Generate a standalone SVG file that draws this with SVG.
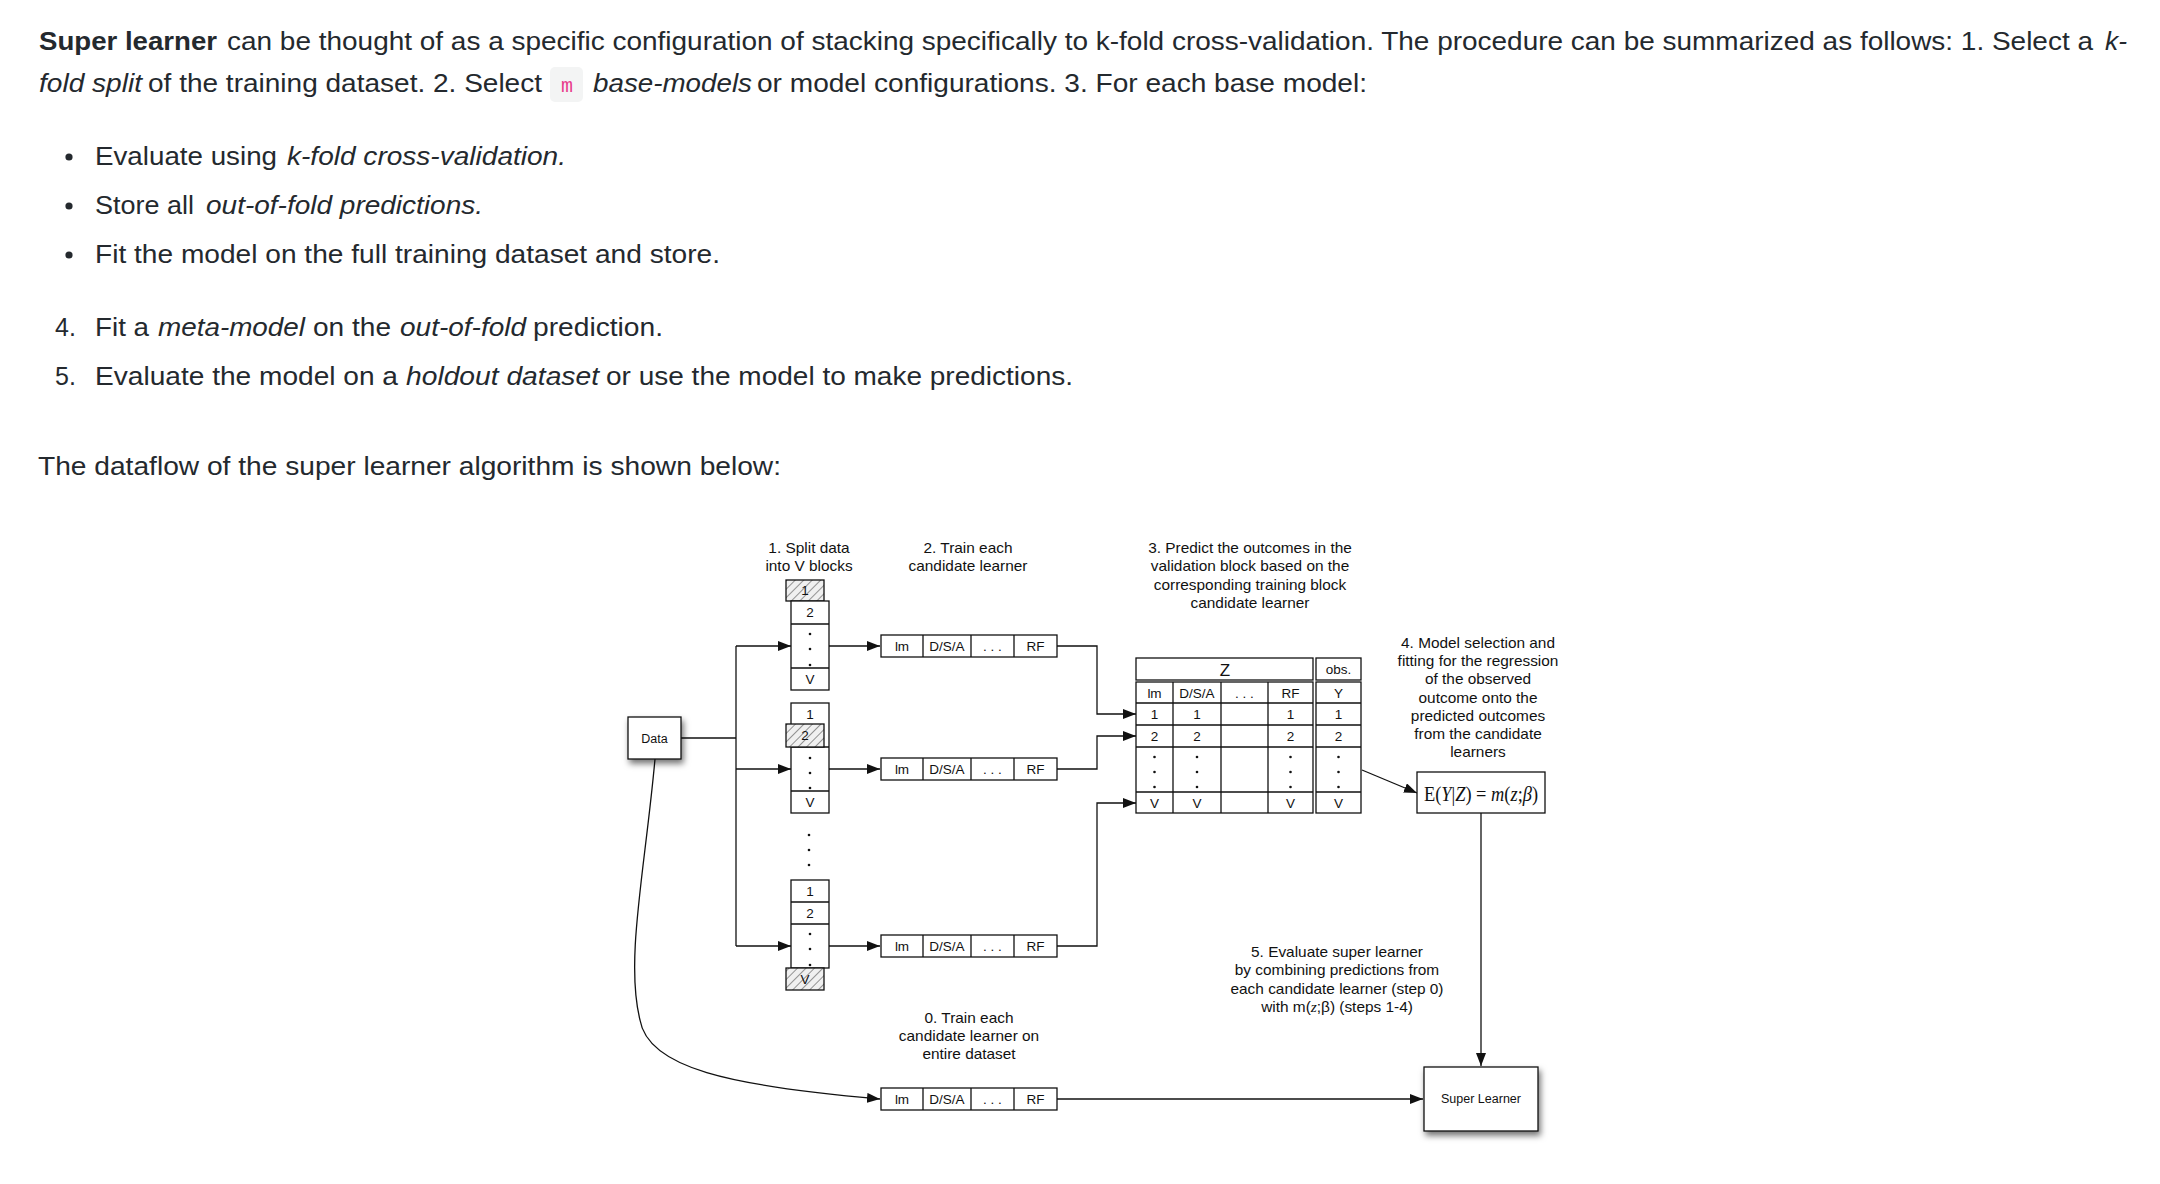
<svg xmlns="http://www.w3.org/2000/svg" width="2160" height="1184" viewBox="0 0 2160 1184">
<style>
.t{font-family:"Liberation Sans",Arial,sans-serif;font-size:25px;fill:#24292e}
.b{font-weight:bold}
.i{font-style:italic}
.lbl text{font-family:"Liberation Sans",Arial,sans-serif;font-size:14px;fill:#111;text-anchor:middle}
.c{font-family:"Liberation Sans",Arial,sans-serif;font-size:13.5px;fill:#111;text-anchor:middle}
.bx{fill:#fff;stroke:#111;stroke-width:1.3}
.hx{fill:url(#hatch);stroke:#111;stroke-width:1.3}
.ln{fill:none;stroke:#111;stroke-width:1.3}
.ar{fill:none;stroke:#111;stroke-width:1.3;marker-end:url(#ah)}
.dot{fill:#111}
</style>
<defs>
<pattern id="hatch" patternUnits="userSpaceOnUse" width="6" height="6" patternTransform="rotate(45)">
<rect width="6" height="6" fill="#f0f0f0"/>
<line x1="0" y1="0" x2="0" y2="6" stroke="#444" stroke-width="1.1"/>
</pattern>
<marker id="ah" markerUnits="userSpaceOnUse" markerWidth="13" markerHeight="10" refX="13" refY="5" orient="auto">
<path d="M0,0 L13,5 L0,10 z" fill="#111"/>
</marker>
<filter id="sh" x="-30%" y="-30%" width="170%" height="170%">
<feDropShadow dx="2" dy="4" stdDeviation="3" flood-color="#000" flood-opacity="0.55"/>
</filter>
</defs>
<rect width="2160" height="1184" fill="#fff"/>

<g id="text">
<text class="t b" x="39" y="50" textLength="178" lengthAdjust="spacingAndGlyphs">Super learner</text>
<text class="t" x="227" y="50" textLength="1866" lengthAdjust="spacingAndGlyphs">can be thought of as a specific configuration of stacking specifically to k-fold cross-validation. The procedure can be summarized as follows: 1. Select a</text>
<text class="t i" x="2105" y="50" textLength="22" lengthAdjust="spacingAndGlyphs">k-</text>
<text class="t i" x="39" y="92" textLength="103" lengthAdjust="spacingAndGlyphs">fold split</text>
<text class="t" x="148" y="92" textLength="394" lengthAdjust="spacingAndGlyphs">of the training dataset. 2. Select</text>
<rect x="550" y="67" width="33" height="35" rx="5" fill="#f3f4f4"/>
<text x="567" y="92" text-anchor="middle" font-family="Liberation Mono,monospace" font-size="20" fill="#e83e8c">m</text>
<text class="t i" x="593" y="92" textLength="159" lengthAdjust="spacingAndGlyphs">base-models</text>
<text class="t" x="757" y="92" textLength="610" lengthAdjust="spacingAndGlyphs">or model configurations. 3. For each base model:</text>

<circle cx="69" cy="157" r="3.6" fill="#24292e"/>
<text class="t" x="95" y="165" textLength="182" lengthAdjust="spacingAndGlyphs">Evaluate using</text>
<text class="t i" x="287" y="165" textLength="279" lengthAdjust="spacingAndGlyphs">k-fold cross-validation.</text>
<circle cx="69" cy="206" r="3.6" fill="#24292e"/>
<text class="t" x="95" y="214" textLength="99" lengthAdjust="spacingAndGlyphs">Store all</text>
<text class="t i" x="206" y="214" textLength="277" lengthAdjust="spacingAndGlyphs">out-of-fold predictions.</text>
<circle cx="69" cy="255" r="3.6" fill="#24292e"/>
<text class="t" x="95" y="263" textLength="625" lengthAdjust="spacingAndGlyphs">Fit the model on the full training dataset and store.</text>

<text class="t" x="55" y="336">4.</text>
<text class="t" x="95" y="336" textLength="54" lengthAdjust="spacingAndGlyphs">Fit a</text>
<text class="t i" x="158" y="336" textLength="147" lengthAdjust="spacingAndGlyphs">meta-model</text>
<text class="t" x="313" y="336" textLength="78" lengthAdjust="spacingAndGlyphs">on the</text>
<text class="t i" x="400" y="336" textLength="126" lengthAdjust="spacingAndGlyphs">out-of-fold</text>
<text class="t" x="533" y="336" textLength="130" lengthAdjust="spacingAndGlyphs">prediction.</text>
<text class="t" x="55" y="385">5.</text>
<text class="t" x="95" y="385" textLength="303" lengthAdjust="spacingAndGlyphs">Evaluate the model on a</text>
<text class="t i" x="406" y="385" textLength="193" lengthAdjust="spacingAndGlyphs">holdout dataset</text>
<text class="t" x="606" y="385" textLength="467" lengthAdjust="spacingAndGlyphs">or use the model to make predictions.</text>

<text class="t" x="38" y="475" textLength="743" lengthAdjust="spacingAndGlyphs">The dataflow of the super learner algorithm is shown below:</text>
</g>

<g id="connectors">
<path class="ln" d="M681,738 H736"/>
<path class="ln" d="M736,646 V946"/>
<path class="ar" d="M736,646 H791"/>
<path class="ar" d="M736,769 H791"/>
<path class="ar" d="M736,946 H791"/>
<path class="ar" d="M829,646 H880"/>
<path class="ar" d="M829,769 H880"/>
<path class="ar" d="M829,946 H880"/>
<path class="ar" d="M1057,646 H1097 V714 H1136"/>
<path class="ar" d="M1057,769 H1097 V736 H1136"/>
<path class="ar" d="M1057,946 H1097 V803 H1136"/>
<path class="ar" d="M655,759 C645,870 625,960 640,1020 C648,1068 730,1086 880,1099"/>
<path class="ar" d="M1057,1099 H1423"/>
<path class="ar" d="M1362,770 L1417,793"/>
<path class="ar" d="M1481,813 V1066"/>
</g>

<g id="data">
<rect class="bx" x="628" y="717" width="53" height="42" filter="url(#sh)"/>
<text class="c" x="654.5" y="743" style="font-size:12.5px">Data</text>
</g>

<g id="stack1">
<rect class="hx" x="786" y="580" width="38" height="21"/>
<text class="c" x="805" y="595">1</text>
<rect class="bx" x="791" y="601" width="38" height="89"/>
<path class="ln" d="M791,624 H829 M791,668 H829"/>
<text class="c" x="810" y="617">2</text>
<circle class="dot" cx="810" cy="634" r="1.3"/><circle class="dot" cx="810" cy="649" r="1.3"/><circle class="dot" cx="810" cy="665" r="1.3"/>
<text class="c" x="810" y="684">V</text>
</g>

<g id="stack2">
<rect class="bx" x="791" y="703" width="38" height="110"/>
<path class="ln" d="M791,747 H829 M791,791 H829"/>
<text class="c" x="810" y="719">1</text>
<rect class="hx" x="786" y="724" width="38" height="23"/>
<text class="c" x="805" y="740">2</text>
<circle class="dot" cx="810" cy="758" r="1.3"/><circle class="dot" cx="810" cy="773" r="1.3"/><circle class="dot" cx="810" cy="788" r="1.3"/>
<text class="c" x="810" y="807">V</text>
</g>

<g id="vdots">
<circle class="dot" cx="809" cy="835" r="1.3"/><circle class="dot" cx="809" cy="850" r="1.3"/><circle class="dot" cx="809" cy="865" r="1.3"/>
</g>

<g id="stack3">
<rect class="bx" x="791" y="880" width="38" height="88"/>
<path class="ln" d="M791,902 H829 M791,924 H829"/>
<text class="c" x="810" y="896">1</text>
<text class="c" x="810" y="918">2</text>
<circle class="dot" cx="810" cy="934" r="1.3"/><circle class="dot" cx="810" cy="949" r="1.3"/><circle class="dot" cx="810" cy="965" r="1.3"/>
<rect class="hx" x="786" y="968" width="38" height="22"/>
<text class="c" x="805" y="984">V</text>
</g>

<g id="model1">
<rect class="bx" x="881" y="635" width="176" height="22"/>
<path class="ln" d="M923,635 V657 M971,635 V657 M1014,635 V657"/>
<text class="c" x="902" y="651">lm</text><text class="c" x="947" y="651">D/S/A</text><text class="c" x="992.5" y="651">. . .</text><text class="c" x="1035.5" y="651">RF</text>
</g>
<g id="model2">
<rect class="bx" x="881" y="758" width="176" height="22"/>
<path class="ln" d="M923,758 V780 M971,758 V780 M1014,758 V780"/>
<text class="c" x="902" y="774">lm</text><text class="c" x="947" y="774">D/S/A</text><text class="c" x="992.5" y="774">. . .</text><text class="c" x="1035.5" y="774">RF</text>
</g>
<g id="model3">
<rect class="bx" x="881" y="935" width="176" height="22"/>
<path class="ln" d="M923,935 V957 M971,935 V957 M1014,935 V957"/>
<text class="c" x="902" y="951">lm</text><text class="c" x="947" y="951">D/S/A</text><text class="c" x="992.5" y="951">. . .</text><text class="c" x="1035.5" y="951">RF</text>
</g>
<g id="model0">
<rect class="bx" x="881" y="1088" width="176" height="22"/>
<path class="ln" d="M923,1088 V1110 M971,1088 V1110 M1014,1088 V1110"/>
<text class="c" x="902" y="1104">lm</text><text class="c" x="947" y="1104">D/S/A</text><text class="c" x="992.5" y="1104">. . .</text><text class="c" x="1035.5" y="1104">RF</text>
</g>

<g id="table">
<rect class="bx" x="1136" y="658" width="177" height="22"/>
<text class="c" x="1225" y="676" style="font-size:17px">Z</text>
<rect class="bx" x="1136" y="682" width="177" height="131"/>
<path class="ln" d="M1173,682 V813 M1221,682 V813 M1268,682 V813 M1136,703 H1313 M1136,725 H1313 M1136,747 H1313 M1136,792 H1313"/>
<text class="c" x="1154.5" y="698">lm</text><text class="c" x="1197" y="698">D/S/A</text><text class="c" x="1244.5" y="698">. . .</text><text class="c" x="1290.5" y="698">RF</text>
<text class="c" x="1154.5" y="719">1</text><text class="c" x="1197" y="719">1</text><text class="c" x="1290.5" y="719">1</text>
<text class="c" x="1154.5" y="741">2</text><text class="c" x="1197" y="741">2</text><text class="c" x="1290.5" y="741">2</text>
<g class="dot">
<circle cx="1154.5" cy="757" r="1.3"/><circle cx="1154.5" cy="772" r="1.3"/><circle cx="1154.5" cy="787" r="1.3"/>
<circle cx="1197" cy="757" r="1.3"/><circle cx="1197" cy="772" r="1.3"/><circle cx="1197" cy="787" r="1.3"/>
<circle cx="1290.5" cy="757" r="1.3"/><circle cx="1290.5" cy="772" r="1.3"/><circle cx="1290.5" cy="787" r="1.3"/>
</g>
<text class="c" x="1154.5" y="808">V</text><text class="c" x="1197" y="808">V</text><text class="c" x="1290.5" y="808">V</text>
</g>

<g id="obs">
<rect class="bx" x="1316" y="658" width="45" height="22"/>
<text class="c" x="1338.5" y="674">obs.</text>
<rect class="bx" x="1316" y="682" width="45" height="131"/>
<path class="ln" d="M1316,703 H1361 M1316,725 H1361 M1316,747 H1361 M1316,792 H1361"/>
<text class="c" x="1338.5" y="698">Y</text>
<text class="c" x="1338.5" y="719">1</text>
<text class="c" x="1338.5" y="741">2</text>
<circle class="dot" cx="1338.5" cy="757" r="1.3"/><circle class="dot" cx="1338.5" cy="772" r="1.3"/><circle class="dot" cx="1338.5" cy="787" r="1.3"/>
<text class="c" x="1338.5" y="808">V</text>
</g>

<g id="equation">
<rect class="bx" x="1417" y="772" width="128" height="41"/>
<text x="1481" y="801" text-anchor="middle" font-family="Liberation Serif,serif" font-size="20" fill="#111" textLength="114" lengthAdjust="spacingAndGlyphs">E(<tspan font-style="italic">Y</tspan>|<tspan font-style="italic">Z</tspan>) = <tspan font-style="italic">m</tspan>(<tspan font-style="italic">z</tspan>;<tspan font-style="italic">β</tspan>)</text>
</g>

<g id="superlearner">
<rect class="bx" x="1424" y="1067" width="114" height="64" filter="url(#sh)"/>
<text class="c" x="1481" y="1103" style="font-size:12.5px">Super Learner</text>
</g>

<g id="step1" class="lbl" transform="translate(809 0) scale(1.1 1)">
<text x="0" y="553">1. Split data</text>
<text x="0" y="571.5">into V blocks</text>
</g>
<g id="step2" class="lbl" transform="translate(968 0) scale(1.1 1)">
<text x="0" y="553">2. Train each</text>
<text x="0" y="571.5">candidate learner</text>
</g>
<g id="step3" class="lbl" transform="translate(1250 0) scale(1.1 1)">
<text x="0" y="553">3. Predict the outcomes in the</text>
<text x="0" y="571.5">validation block based on the</text>
<text x="0" y="590">corresponding training block</text>
<text x="0" y="608.5">candidate learner</text>
</g>
<g id="step4" class="lbl" transform="translate(1478 0) scale(1.1 1)">
<text x="0" y="648">4. Model selection and</text>
<text x="0" y="666.2">fitting for the regression</text>
<text x="0" y="684.4">of the observed</text>
<text x="0" y="702.6">outcome onto the</text>
<text x="0" y="720.8">predicted outcomes</text>
<text x="0" y="739">from the candidate</text>
<text x="0" y="757.2">learners</text>
</g>
<g id="step5" class="lbl" transform="translate(1337 0) scale(1.1 1)">
<text x="0" y="957">5. Evaluate super learner</text>
<text x="0" y="975.5">by combining predictions from</text>
<text x="0" y="994">each candidate learner (step 0)</text>
<text x="0" y="1012.5">with m(<tspan font-family="Liberation Serif,serif" font-style="italic">z</tspan>;β) (steps 1-4)</text>
</g>
<g id="step0" class="lbl" transform="translate(969 0) scale(1.1 1)">
<text x="0" y="1023">0. Train each</text>
<text x="0" y="1041">candidate learner on</text>
<text x="0" y="1059">entire dataset</text>
</g>
</svg>
